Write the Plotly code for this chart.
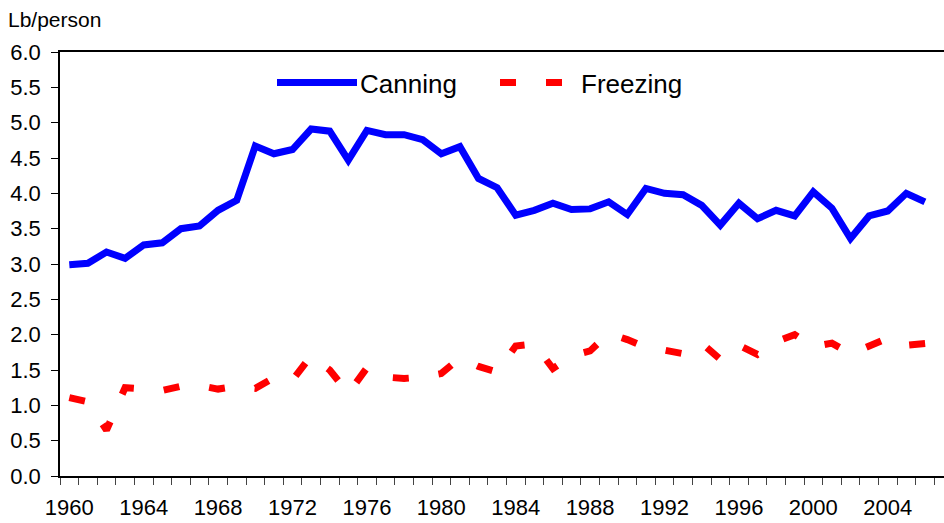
import plotly.graph_objects as go

# Per-capita use of fresh produce for processing, pounds per person
years_canning = list(range(1960, 2007))
canning = [2.99, 3.01, 3.17, 3.08, 3.27, 3.30, 3.50, 3.54, 3.76, 3.90,
           4.67, 4.56, 4.62, 4.91, 4.88, 4.47, 4.89, 4.83, 4.83, 4.76,
           4.56, 4.66, 4.21, 4.08, 3.69, 3.76, 3.86, 3.77, 3.78, 3.88,
           3.70, 4.07, 4.00, 3.98, 3.83, 3.55, 3.86, 3.64, 3.76, 3.68,
           4.02, 3.79, 3.36, 3.68, 3.75, 4.00, 3.88]

years_freezing = list(range(1960, 2008))
freezing = [1.11, 1.05, 0.65, 1.25, 1.23, 1.21, 1.27, 1.28, 1.23, 1.27,
            1.24, 1.39, 1.36, 1.70, 1.50, 1.17, 1.53, 1.40, 1.38, 1.40,
            1.45, 1.67, 1.55, 1.47, 1.84, 1.87, 1.52, 1.70, 1.77, 2.02,
            1.93, 1.82, 1.78, 1.73, 1.88, 1.65, 1.85, 1.72, 1.90, 2.00,
            1.83, 1.88, 1.73, 1.85, 1.95, 1.85, 1.88, 1.90]

label_years = list(range(1960, 2008, 4))
y_ticks = [i * 0.5 for i in range(13)]

FONT = "Liberation Sans, Arial, sans-serif"
BLUE = "#0000FF"
RED = "#FF0000"
DASH = "16px,30px"

W, H = 944, 523
M_L, M_R, M_T, M_B = 60, 0, 51.5, 47.3

fig = go.Figure()
fig.add_trace(go.Scatter(x=years_canning, y=canning, mode="lines", name="Canning",
                         line=dict(color=BLUE, width=7), showlegend=False))
fig.add_trace(go.Scatter(x=years_freezing, y=freezing, mode="lines", name="Freezing",
                         line=dict(color=RED, width=7, dash=DASH), showlegend=False))

# Legend keys drawn in paper space
plot_w = W - M_L - M_R
plot_h = H - M_T - M_B
def px_x(p):
    return (p - M_L) / plot_w
def px_y(p):
    return (H - M_B - p) / plot_h

key_y = px_y(82)
text_y = px_y(84)
fig.add_shape(type="line", xref="paper", yref="paper",
              x0=px_x(277), x1=px_x(357), y0=key_y, y1=key_y,
              line=dict(color=BLUE, width=7))
fig.add_shape(type="line", xref="paper", yref="paper",
              x0=px_x(500), x1=px_x(563), y0=key_y, y1=key_y,
              line=dict(color=RED, width=7, dash=DASH))
fig.add_annotation(text="Canning", xref="paper", yref="paper", x=px_x(358), y=text_y,
                   xanchor="left", yanchor="middle", showarrow=False,
                   font=dict(family=FONT, size=26, color="black"))
fig.add_annotation(text="Freezing", xref="paper", yref="paper", x=px_x(579), y=text_y,
                   xanchor="left", yanchor="middle", showarrow=False,
                   font=dict(family=FONT, size=26, color="black"))
fig.add_annotation(text="Lb/person", xref="paper", yref="paper", x=px_x(6), y=px_y(19),
                   xanchor="left", yanchor="middle", showarrow=False,
                   font=dict(family=FONT, size=21, color="black"))

fig.update_layout(
    width=W, height=H,
    margin=dict(l=M_L, r=M_R, t=M_T, b=M_B),
    paper_bgcolor="white", plot_bgcolor="white",
    font=dict(family=FONT, size=22, color="black"),
    showlegend=False,
)
fig.update_xaxes(
    range=[1959.5, 1959.5 + (W - M_L - M_R) / 18.6],
    tickmode="array", tickvals=label_years, ticktext=[str(y) for y in label_years],
    ticks="", showgrid=False, zeroline=False,
    showline=True, linecolor="black", linewidth=1.5, mirror=True,
    ticklabelstandoff=11,
    minor=dict(tick0=1959.5, dtick=1, ticks="outside", ticklen=7,
               tickcolor="#444444", tickwidth=1, showgrid=False),
)
fig.update_yaxes(
    range=[0, 6], tickmode="array", tickvals=y_ticks,
    ticktext=[f"{v:.1f}" for v in y_ticks],
    ticks="outside", ticklen=7, tickcolor="black", tickwidth=1,
    showgrid=False, zeroline=False,
    showline=True, linecolor="black", linewidth=1.5,
    ticklabelstandoff=6,
)

fig.write_html("out.html")
